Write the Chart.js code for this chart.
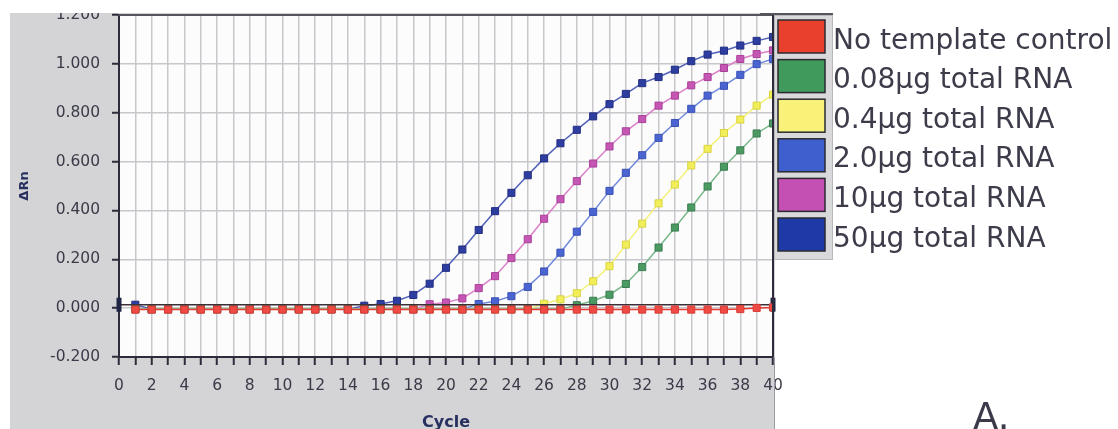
<!DOCTYPE html>
<html>
<head>
<meta charset="utf-8">
<script src="https://cdn.jsdelivr.net/npm/chart.js@4.4.1/dist/chart.umd.min.js"></script>
<style>
  html, body { margin: 0; padding: 0; background: #ffffff; }
  #wrap { width: 1118px; height: 429px; position: relative; }
</style>
</head>
<body>
<div id="wrap"><canvas id="amp" width="1118" height="429"></canvas></div>
<script>
// Real-time PCR amplification plot: normalised reporter signal (ΔRn) per cycle
const cycles = [0,1,2,3,4,5,6,7,8,9,10,11,12,13,14,15,16,17,18,19,20,
                21,22,23,24,25,26,27,28,29,30,31,32,33,34,35,36,37,38,39,40];

const noTemplate = [null,
  -0.006,-0.006,-0.006,-0.006,-0.006,-0.006,-0.006,-0.006,-0.006,-0.006,
  -0.006,-0.006,-0.006,-0.006,-0.006,-0.006,-0.006,-0.006,-0.006,-0.006,
  -0.006,-0.006,-0.006,-0.006,-0.006,-0.006,-0.006,-0.006,-0.006,-0.006,
  -0.006,-0.006,-0.006,-0.006,-0.006,-0.006,-0.006,-0.004,0.001,0.003];

const rna008 = [null,
  -0.004,-0.004,-0.004,-0.004,-0.004,-0.004,-0.004,-0.004,-0.004,-0.004,
  -0.004,-0.004,-0.004,-0.004,-0.004,-0.004,-0.004,-0.004,-0.004,-0.004,
  -0.004,-0.004,-0.004,-0.004,-0.004,-0.004,-0.004,0.012,0.030,0.055,
  0.099,0.168,0.248,0.330,0.412,0.498,0.579,0.646,0.715,0.756];

const rna04 = [null,
  -0.004,-0.004,-0.004,-0.004,-0.004,-0.004,-0.004,-0.004,-0.004,-0.004,
  -0.004,-0.004,-0.004,-0.004,-0.004,-0.004,-0.004,-0.004,-0.004,-0.004,
  -0.004,-0.004,-0.004,-0.004,-0.004,0.018,0.036,0.061,0.110,0.172,
  0.260,0.346,0.429,0.506,0.584,0.652,0.717,0.772,0.829,0.874];

const rna2 = [null,
  -0.004,-0.004,-0.004,-0.004,-0.004,-0.004,-0.004,-0.004,-0.004,-0.004,
  -0.004,-0.004,-0.004,-0.004,-0.004,-0.004,-0.004,-0.004,-0.004,-0.004,
  -0.004,0.017,0.028,0.049,0.087,0.150,0.227,0.313,0.394,0.480,
  0.554,0.626,0.697,0.758,0.816,0.870,0.910,0.955,0.999,1.020];

const rna10 = [null,
  -0.004,-0.004,-0.004,-0.004,-0.004,-0.004,-0.004,-0.004,-0.004,-0.004,
  -0.004,-0.004,-0.004,-0.004,-0.004,-0.004,-0.004,-0.004,0.016,0.023,
  0.040,0.082,0.131,0.205,0.282,0.366,0.446,0.520,0.592,0.662,
  0.724,0.774,0.829,0.870,0.912,0.946,0.983,1.020,1.040,1.055];

const rna50 = [null,
  0.014,-0.004,-0.004,-0.004,-0.004,-0.004,-0.004,-0.004,-0.004,-0.004,
  -0.004,-0.004,-0.004,-0.004,0.010,0.017,0.030,0.054,0.100,0.165,
  0.240,0.320,0.397,0.472,0.544,0.613,0.675,0.730,0.785,0.835,
  0.877,0.921,0.946,0.976,1.011,1.038,1.054,1.075,1.094,1.110];

const thresholdLevel = 0.014;

const seriesLabels = ['No template control', '0.08µg total RNA', '0.4µg total RNA',
                      '2.0µg total RNA', '10µg total RNA', '50µg total RNA'];

const FONT = '"DejaVu Sans", "Liberation Sans", sans-serif';

function points(values) {
  return cycles.map((c, i) => ({ x: c, y: values[i] }));
}

function curve(label, values, marker, edge, line, swatch) {
  return {
    label,
    data: points(values),
    borderColor: line,
    backgroundColor: marker,
    pointBackgroundColor: marker,
    pointBorderColor: edge,
    pointBorderWidth: 1,
    pointStyle: 'rect',
    pointRadius: 5,
    borderWidth: 1.5,
    tension: 0,
    swatch
  };
}

const datasets = [
  curve(seriesLabels[0], noTemplate, '#f04a44', '#d83a34', '#e63a30', '#e8402c'),
  {
    label: 'threshold',
    data: [{ x: cycles[0], y: thresholdLevel }, { x: cycles[cycles.length - 1], y: thresholdLevel }],
    borderColor: '#3c3038',
    borderWidth: 1.5,
    pointStyle: 'line',
    rotation: 90,
    pointRadius: 7,
    pointBorderWidth: 5,
    pointBorderColor: '#1f2444',
    clip: false
  },
  curve(seriesLabels[1], rna008, '#4a9a62', '#3a7c50', '#7ab88a', '#3f9a5c'),
  curve(seriesLabels[2], rna04, '#f2ee5a', '#d8d440', '#f4f07a', '#f8f278'),
  curve(seriesLabels[3], rna2, '#4a64d2', '#3a50b4', '#7088dc', '#3f5fcf'),
  curve(seriesLabels[4], rna10, '#c656b4', '#a84098', '#dc80c8', '#c450b4'),
  curve(seriesLabels[5], rna50, '#2e3ea0', '#222e80', '#5060b8', '#1e3aa6')
];

// Grey panel, white plot field, frame, legend column and panel letter
const decor = {
  id: 'decor',
  beforeDraw(chart) {
    const { ctx, chartArea: a } = chart;
    ctx.save();
    ctx.fillStyle = '#d4d4d7';
    ctx.fillRect(10, 13, a.right + 2 - 10, chart.height - 13);
    ctx.fillStyle = '#fcfcfd';
    ctx.fillRect(a.left, a.top, a.right - a.left, a.bottom - a.top);
    ctx.restore();
  },
  afterDraw(chart) {
    const { ctx, chartArea: a } = chart;
    ctx.save();
    // frame top and right
    ctx.lineWidth = 2;
    ctx.strokeStyle = '#55555e';
    ctx.beginPath(); ctx.moveTo(a.left, a.top); ctx.lineTo(a.right + 59, a.top); ctx.stroke();
    ctx.strokeStyle = '#2c2c3a';
    ctx.beginPath(); ctx.moveTo(a.right, a.top); ctx.lineTo(a.right, a.bottom); ctx.stroke();
    ctx.lineWidth = 1;
    ctx.strokeStyle = '#9a9aa2';
    ctx.beginPath(); ctx.moveTo(a.right + 1.5, a.bottom); ctx.lineTo(a.right + 1.5, chart.height); ctx.stroke();
    // trim above the grey panel
    ctx.fillStyle = '#ffffff';
    ctx.fillRect(0, 0, a.right + 60, 13);

    // legend column
    const px = a.right + 1, py = a.top;
    ctx.fillStyle = '#d9d9dc';
    ctx.fillRect(px, py, 58, 244);
    ctx.strokeStyle = '#b8b8bc';
    ctx.lineWidth = 1;
    ctx.strokeRect(px + 0.5, py + 0.5, 58, 244);
    ctx.strokeStyle = '#55555e';
    ctx.lineWidth = 2;
    ctx.beginPath(); ctx.moveTo(px - 14, py - 1); ctx.lineTo(px + 59, py - 1); ctx.stroke();

    const entries = chart.data.datasets.filter(d => d.swatch);
    ctx.font = '28px ' + FONT;
    ctx.textBaseline = 'alphabetic';
    entries.forEach((d, i) => {
      const top = py + 5 + i * 39.6;
      ctx.fillStyle = d.swatch;
      ctx.fillRect(px + 4, top, 47, 33);
      ctx.strokeStyle = '#2a2a30';
      ctx.lineWidth = 1.5;
      ctx.strokeRect(px + 4, top, 47, 33);
      ctx.fillStyle = '#3c3c4a';
      ctx.fillText(d.label, px + 59, top + 28.5);
    });

    ctx.font = '37px ' + FONT;
    ctx.fillStyle = '#3a3a4a';
    ctx.fillText('A.', 973, 429);
    ctx.restore();
  }
};

new Chart(document.getElementById('amp'), {
  type: 'line',
  data: { datasets },
  options: {
    responsive: false,
    animation: false,
    events: [],
    layout: { padding: { left: 0, right: 345, top: 15, bottom: 0 } },
    plugins: { legend: { display: false }, tooltip: { enabled: false } },
    scales: {
      x: {
        type: 'linear',
        min: 0, max: 40,
        afterFit(s) { s.height = 72; s.paddingLeft = 0; s.paddingRight = 0; },
        ticks: {
          stepSize: 1, autoSkip: false, maxRotation: 0, padding: 12,
          color: '#3a3a48', font: { family: FONT, size: 15.5 },
          callback: v => (v % 2 === 0 ? String(v) : '')
        },
        grid: { color: '#c8c8cc', lineWidth: 1.5, tickColor: '#2c2c3a', tickLength: 8, tickWidth: 2 },
        border: { color: '#2c2c3a', width: 2 },
        title: {
          display: true, text: 'Cycle', color: '#283060', padding: 0,
          font: { family: FONT, size: 16, weight: 'bold', lineHeight: 0.75 }
        }
      },
      y: {
        min: -0.2, max: 1.2,
        afterFit(s) { s.width = 119; s.paddingTop = 0; s.paddingBottom = 0; },
        ticks: {
          stepSize: 0.2, padding: 12,
          color: '#3a3a48', font: { family: FONT, size: 15.5 },
          callback: v => (Math.abs(v) < 1e-9 ? 0 : v).toFixed(3)
        },
        grid: { color: '#c8c8cc', lineWidth: 1.5, tickColor: '#2c2c3a', tickLength: 7, tickWidth: 2 },
        border: { color: '#2c2c3a', width: 2 },
        title: {
          display: true, text: 'ΔRn', color: '#283060', padding: { top: 17, bottom: 0 },
          font: { family: FONT, size: 13, weight: 'bold' }
        }
      }
    }
  },
  plugins: [decor]
});
</script>
</body>
</html>
